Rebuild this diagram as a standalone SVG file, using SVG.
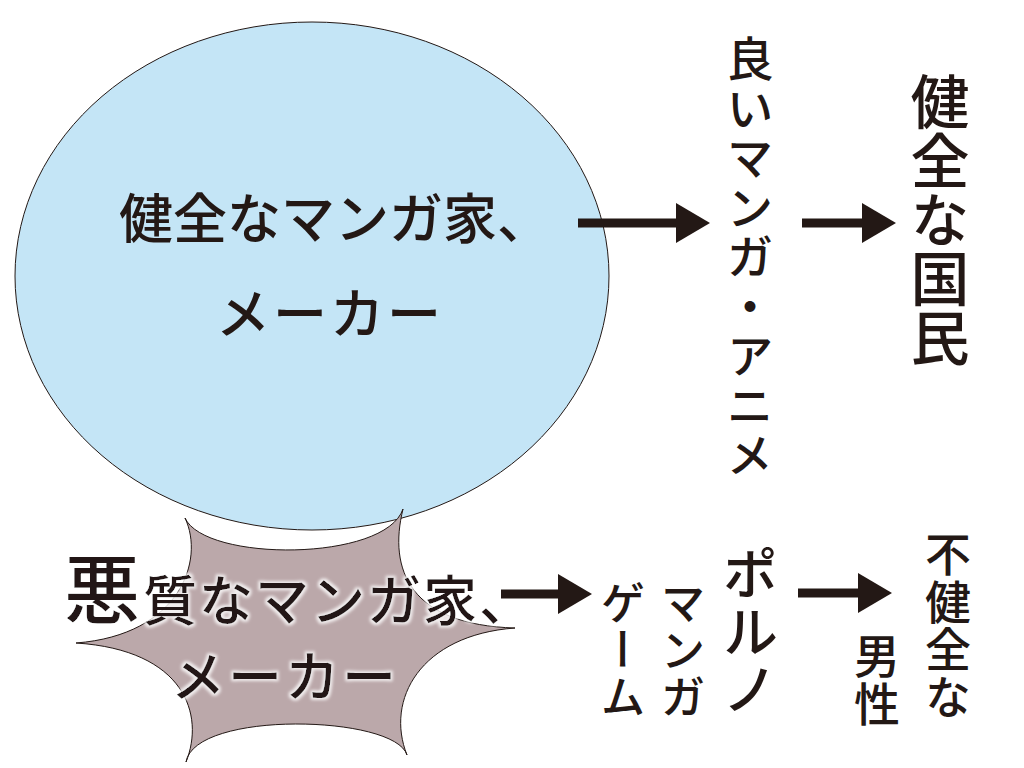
<svg xmlns="http://www.w3.org/2000/svg" width="1024" height="768" viewBox="0 0 1024 768">
<defs>
<style>
.t{font-family:"Noto Sans CJK JP","Noto Sans CJK SC",sans-serif;fill:#231815;font-weight:500;}
.v{writing-mode:vertical-rl;text-orientation:mixed;}
.c{stroke:#231815;stroke-width:9;fill:none;}
</style>
<filter id="glow" x="-10%" y="-20%" width="120%" height="140%">
<feMorphology in="SourceAlpha" operator="dilate" radius="1.5" result="d"/>
<feGaussianBlur in="d" stdDeviation="1.5" result="b"/>
<feFlood flood-color="#ffffff" flood-opacity="0.8"/>
<feComposite in2="b" operator="in" result="g"/>
<feMerge><feMergeNode in="g"/><feMergeNode in="SourceGraphic"/></feMerge>
</filter>
<marker id="ah" markerUnits="userSpaceOnUse" markerWidth="34" markerHeight="40" refX="0" refY="20" orient="auto" viewBox="0 0 34 40">
<polygon points="0,0 34,20 0,40" fill="#231815"/>
</marker>
</defs>
<rect width="1024" height="768" fill="#ffffff"/>
<g id="good-makers">
<ellipse cx="312" cy="276" rx="297" ry="254" fill="#c4e5f6" stroke="#231815" stroke-width="1"/>
<text class="t" x="119" y="239" font-size="54">健全なマンガ家、</text>
<text class="t" x="330" y="334" font-size="54" text-anchor="middle" letter-spacing="3">メーカー</text>
</g>
<g id="bad-makers">
<path d="M185,518 C205,562 385,562 403,509 C388,570 410,625 515,628 C420,635 385,700 407,755 C395,715 195,710 186,762 C205,715 185,650 76,643 C180,635 205,560 185,518 Z" fill="#bba8aa" stroke="#231815" stroke-width="1"/>
<g filter="url(#glow)">
<text class="t" x="64" y="618" font-size="76" font-weight="bold">悪</text>
<text class="t" x="143" y="621" font-size="54" letter-spacing="2">質なマンガ家、</text>
<text class="t" x="285" y="697" font-size="54" text-anchor="middle" letter-spacing="3">メーカー</text>
</g>
</g>
<g id="good-manga">
<text class="t v" x="750" y="35" font-size="47" letter-spacing="2.5">良いマンガ・アニメ</text>
</g>
<g id="healthy-citizens">
<text class="t v" x="940" y="72" font-size="59">健全な国民</text>
</g>
<g id="porn">
<text class="t v" x="623" y="580" font-size="45" letter-spacing="2">ゲーム</text>
<text class="t v" x="683" y="580" font-size="45" letter-spacing="2">マンガ</text>
<text class="t v" x="750" y="545" font-size="56" letter-spacing="2">ポルノ</text>
</g>
<g id="unhealthy-men">
<text class="t v" x="877" y="633" font-size="46" letter-spacing="1.5">男性</text>
<text class="t v" x="948" y="531" font-size="46" letter-spacing="1.5">不健全な</text>
</g>
<g id="connectors">
<line class="c" x1="578" y1="223" x2="676" y2="223" marker-end="url(#ah)"/>
<line class="c" x1="802" y1="223" x2="862" y2="223" marker-end="url(#ah)"/>
<line class="c" x1="501" y1="594" x2="558" y2="594" marker-end="url(#ah)"/>
<line class="c" x1="798" y1="593" x2="858" y2="593" marker-end="url(#ah)"/>
</g>
</svg>
